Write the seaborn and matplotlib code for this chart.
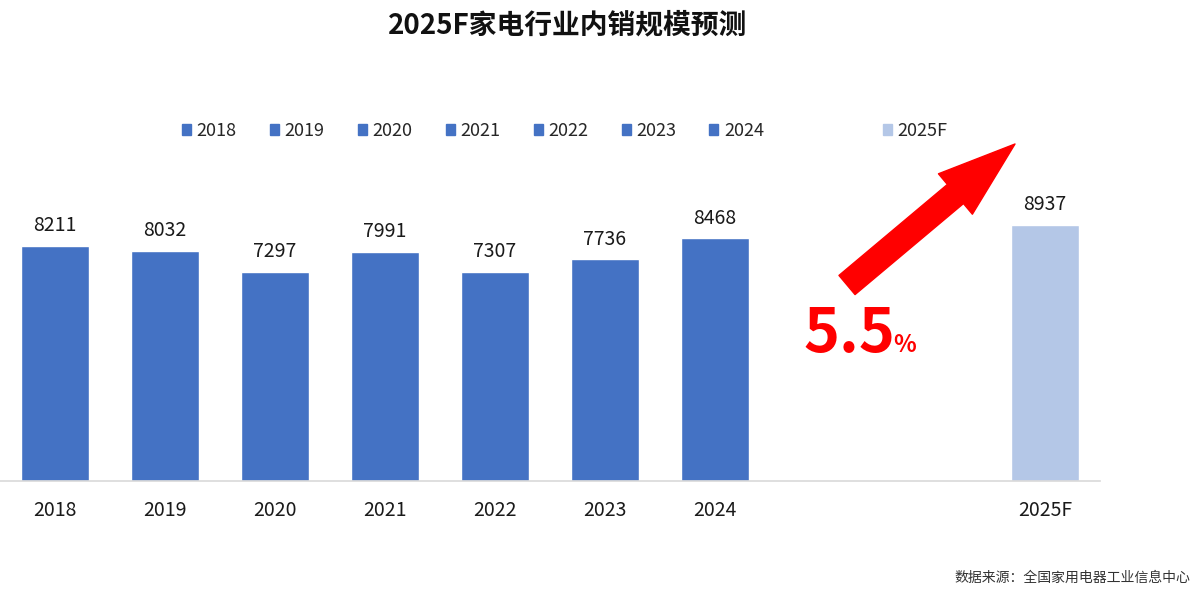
import numpy as np
import pandas as pd
import matplotlib
matplotlib.use("Agg")
import matplotlib.pyplot as plt
import seaborn as sns
from matplotlib.patches import Patch, FancyArrowPatch

# data
years = ["2018", "2019", "2020", "2021", "2022", "2023", "2024"]
sales = [8211, 8032, 7297, 7991, 7307, 7736, 8468]
forecast_label = "2025F"
forecast_value = 8937
growth_text = "5.5"

BLUE = "#4472C4"
LIGHT = "#B4C7E7"
RED = "#FF0000"

sns.set_theme(style="white")
plt.rcParams["font.family"] = ["Noto Sans CJK SC", "DejaVu Sans"]

df = pd.DataFrame({"year": years + [forecast_label],
                   "value": sales + [forecast_value]})
gaps = ["_g1", "_g2"]
order = years + gaps + [forecast_label]
palette = {y: BLUE for y in years}
palette[forecast_label] = LIGHT

fig = plt.figure(figsize=(12, 5.97), dpi=100)
ax = fig.add_axes([0.0, 1 - 481 / 597, 1100 / 1200, (481 - 150) / 597])

sns.barplot(data=df, x="year", y="value", hue="year", order=order,
            hue_order=years + [forecast_label], palette=palette,
            width=0.61, legend=False, saturation=1, ax=ax)

for c in ax.containers:
    ax.bar_label(c, fmt="%d", padding=7, fontsize=14, color="#1a1a1a")

ax.set_ylim(0, 11550)
ax.set_xlim(-0.5, len(order) - 0.5)
ax.set_xticks(range(len(order)))
ax.set_xticklabels([o if not o.startswith("_") else "" for o in order],
                   fontsize=14, color="#1a1a1a")
ax.tick_params(axis="x", length=0, pad=14)
ax.set_yticks([])
ax.set_xlabel("")
ax.set_ylabel("")
for s in ["top", "right", "left"]:
    ax.spines[s].set_visible(False)
ax.spines["bottom"].set_color("#D9D9D9")
ax.spines["bottom"].set_linewidth(1.2)

# title
fig.text(568 / 1200, 1 - 25 / 597, "2025F家电行业内销规模预测", ha="center",
         va="center", fontsize=20, fontweight="bold", color="#111111")

# legends
h1 = [Patch(color=BLUE, label=y) for y in years]
fig.legend(handles=h1, loc="center left", ncol=7, frameon=False,
           bbox_to_anchor=(166 / 1200, 1 - 131 / 597), fontsize=13,
           handlelength=0.5, handleheight=0.5, handletextpad=0.3,
           columnspacing=1.85)
h2 = [Patch(color=LIGHT, label=forecast_label)]
fig.legend(handles=h2, loc="center left", frameon=False,
           bbox_to_anchor=(867 / 1200, 1 - 131 / 597), fontsize=13,
           handlelength=0.5, handleheight=0.5, handletextpad=0.3)

# growth arrow
arrow = FancyArrowPatch((847 / 1200, 1 - 285 / 597), (1015 / 1200, 1 - 144 / 597),
                        transform=fig.transFigure,
                        arrowstyle="simple,head_length=56,head_width=38,tail_width=18",
                        mutation_scale=1, color=RED, shrinkA=0, shrinkB=0)
fig.patches.append(arrow)

fig.text(803 / 1200, 1 - 352 / 597, growth_text, ha="left", va="baseline",
         fontsize=44, fontweight="bold", color=RED)
fig.text(893 / 1200, 1 - 352 / 597, "%", ha="left", va="baseline",
         fontsize=17, fontweight="bold", color=RED)

# source
fig.text(1190 / 1200, 1 - 578 / 597, "数据来源：全国家用电器工业信息中心",
         ha="right", va="center", fontsize=10, color="#333333")

fig.savefig("out.png", dpi=100)
